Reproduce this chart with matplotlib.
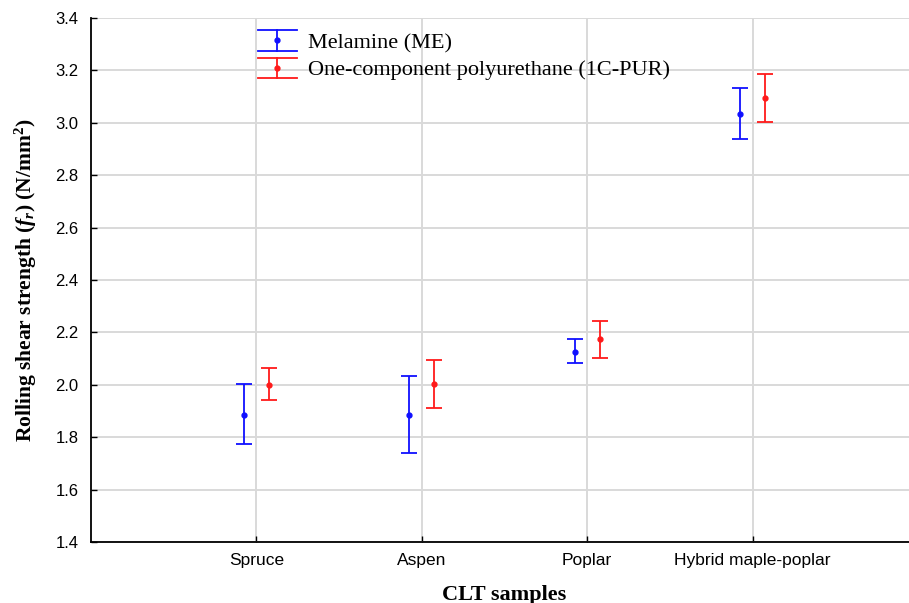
import numpy as np
import matplotlib.pyplot as plt
from matplotlib.lines import Line2D
from matplotlib.legend_handler import HandlerBase

plt.rcParams['mathtext.fontset'] = 'custom'
plt.rcParams['mathtext.rm'] = 'Liberation Serif'
plt.rcParams['mathtext.it'] = 'Liberation Serif:italic:bold'
plt.rcParams['mathtext.bf'] = 'Liberation Serif:bold'

## data
samples = ['Spruce', 'Aspen', 'Poplar', 'Hybrid maple-poplar']
me_mean = [1.885, 1.885, 2.127, 3.034]
me_low = [1.774, 1.740, 2.082, 2.940]
me_high = [2.003, 2.034, 2.175, 3.132]
pur_mean = [2.000, 2.003, 2.174, 3.095]
pur_low = [1.942, 1.911, 2.101, 3.004]
pur_high = [2.064, 2.095, 2.245, 3.187]

me_col = '#1010ff'
pur_col = '#ff1a1a'
off = 0.075


class CapHandler(HandlerBase):
    # vertical bar with wide caps, like the legend of the original
    def create_artists(self, legend, orig, xd, yd, w, h, fs, trans):
        c = orig.get_color()
        x0, x1 = -xd, -xd + w
        xm = (x0 + x1) / 2
        ym = -yd + h / 2
        y0, y1 = ym - 0.65 * h, ym + 0.65 * h
        arts = [Line2D([x0, x1], [y0, y0], color=c, lw=1.3),
                Line2D([x0, x1], [y1, y1], color=c, lw=1.3),
                Line2D([xm, xm], [y0, y1], color=c, lw=1.3),
                Line2D([xm], [ym], color=c, marker='o', ms=3.5)]
        for a in arts:
            a.set_transform(trans)
        return arts


fig = plt.figure(figsize=(9.09, 6.03), dpi=100)
ax = fig.add_axes([91 / 909, 61 / 603, 827 / 909, 524 / 603])

x = np.arange(1, len(samples) + 1)
me_mean = np.array(me_mean)
pur_mean = np.array(pur_mean)
ax.errorbar(x - off, me_mean, yerr=[me_mean - np.array(me_low), np.array(me_high) - me_mean],
            fmt='o', ms=3.5, color=me_col, ecolor=me_col, elinewidth=1.3, capsize=5.5, capthick=1.3)
ax.errorbar(x + off, pur_mean, yerr=[pur_mean - np.array(pur_low), np.array(pur_high) - pur_mean],
            fmt='o', ms=3.5, color=pur_col, ecolor=pur_col, elinewidth=1.3, capsize=5.5, capthick=1.3)

ax.set_xlim(0, 5)
ax.set_ylim(1.4, 3.4)
ax.set_xticks(x)
ax.set_xticklabels(samples, fontfamily='Liberation Sans', fontsize=12.5)
yt = np.arange(1.4, 3.41, 0.2)
ax.set_yticks(yt)
ax.set_yticklabels(['%.1f' % v for v in yt], fontfamily='Liberation Sans', fontsize=12)
ax.tick_params(direction='in', length=4, width=1, pad=8)
ax.tick_params(axis='y', pad=9)
ax.grid(color='#d9d9d9', lw=1.4)
ax.set_axisbelow(True)
for s in ['top', 'right']:
    ax.spines[s].set_visible(False)
for s in ['left', 'bottom']:
    ax.spines[s].set_linewidth(1.3)

ax.set_xlabel('CLT samples', fontfamily='Liberation Serif', fontweight='bold', fontsize=16, labelpad=12)
ax.set_ylabel(r'Rolling shear strength ($f_r$) (N/mm$^\mathbf{2}$)', fontfamily='Liberation Serif',
              fontweight='bold', fontsize=15.5, labelpad=12)

h1 = Line2D([], [], color=me_col)
h2 = Line2D([], [], color=pur_col)
ax.legend([h1, h2], ['Melamine (ME)', 'One-component polyurethane (1C-PUR)'],
          handler_map={Line2D: CapHandler()}, loc='upper left', bbox_to_anchor=(0.202, 0.972),
          borderaxespad=0, borderpad=0, frameon=False,
          prop={'family': 'Liberation Serif', 'size': 16}, handlelength=1.75,
          handletextpad=0.5, labelspacing=0.3)

fig.savefig('out.png', dpi=100)
